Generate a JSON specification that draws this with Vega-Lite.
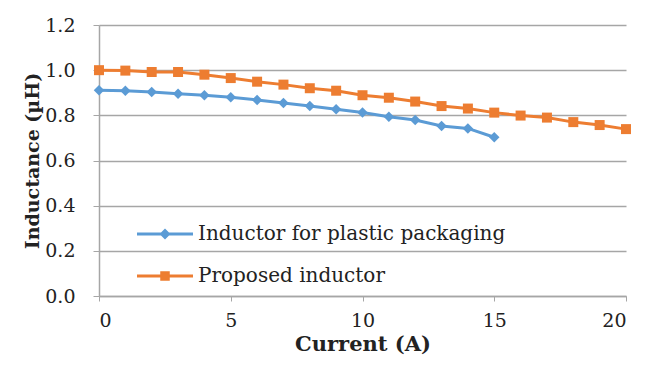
{
  "$schema": "https://vega.github.io/schema/vega-lite/v6.json",
  "width": 527,
  "height": 271,
  "autosize": {"type": "none"},
  "padding": {"left": 99, "top": 25, "right": 31, "bottom": 73},
  "background": "white",
  "config": {
    "view": {"stroke": null},
    "font": "DejaVu Serif"
  },
  "data": {
    "values": [
      {"current": 0, "inductance": 0.911, "series": "Inductor for plastic packaging"},
      {"current": 1, "inductance": 0.909, "series": "Inductor for plastic packaging"},
      {"current": 2, "inductance": 0.903, "series": "Inductor for plastic packaging"},
      {"current": 3, "inductance": 0.896, "series": "Inductor for plastic packaging"},
      {"current": 4, "inductance": 0.889, "series": "Inductor for plastic packaging"},
      {"current": 5, "inductance": 0.880, "series": "Inductor for plastic packaging"},
      {"current": 6, "inductance": 0.868, "series": "Inductor for plastic packaging"},
      {"current": 7, "inductance": 0.855, "series": "Inductor for plastic packaging"},
      {"current": 8, "inductance": 0.841, "series": "Inductor for plastic packaging"},
      {"current": 9, "inductance": 0.827, "series": "Inductor for plastic packaging"},
      {"current": 10, "inductance": 0.813, "series": "Inductor for plastic packaging"},
      {"current": 11, "inductance": 0.794, "series": "Inductor for plastic packaging"},
      {"current": 12, "inductance": 0.779, "series": "Inductor for plastic packaging"},
      {"current": 13, "inductance": 0.753, "series": "Inductor for plastic packaging"},
      {"current": 14, "inductance": 0.742, "series": "Inductor for plastic packaging"},
      {"current": 15, "inductance": 0.703, "series": "Inductor for plastic packaging"},
      {"current": 0, "inductance": 1.000, "series": "Proposed inductor"},
      {"current": 1, "inductance": 0.998, "series": "Proposed inductor"},
      {"current": 2, "inductance": 0.992, "series": "Proposed inductor"},
      {"current": 3, "inductance": 0.992, "series": "Proposed inductor"},
      {"current": 4, "inductance": 0.980, "series": "Proposed inductor"},
      {"current": 5, "inductance": 0.965, "series": "Proposed inductor"},
      {"current": 6, "inductance": 0.949, "series": "Proposed inductor"},
      {"current": 7, "inductance": 0.936, "series": "Proposed inductor"},
      {"current": 8, "inductance": 0.920, "series": "Proposed inductor"},
      {"current": 9, "inductance": 0.909, "series": "Proposed inductor"},
      {"current": 10, "inductance": 0.889, "series": "Proposed inductor"},
      {"current": 11, "inductance": 0.878, "series": "Proposed inductor"},
      {"current": 12, "inductance": 0.861, "series": "Proposed inductor"},
      {"current": 13, "inductance": 0.841, "series": "Proposed inductor"},
      {"current": 14, "inductance": 0.830, "series": "Proposed inductor"},
      {"current": 15, "inductance": 0.812, "series": "Proposed inductor"},
      {"current": 16, "inductance": 0.799, "series": "Proposed inductor"},
      {"current": 17, "inductance": 0.790, "series": "Proposed inductor"},
      {"current": 18, "inductance": 0.770, "series": "Proposed inductor"},
      {"current": 19, "inductance": 0.757, "series": "Proposed inductor"},
      {"current": 20, "inductance": 0.739, "series": "Proposed inductor"}
    ]
  },
  "encoding": {
    "x": {
      "field": "current", "type": "quantitative",
      "scale": {"domain": [0, 20], "nice": false},
      "axis": {
        "title": "Current  (A)",
        "values": [0, 5, 10, 15, 20],
        "grid": false,
        "domainColor": "#a6a6a6", "domainWidth": 1.5,
        "tickColor": "#a6a6a6", "tickSize": 5,
        "labelFont": "DejaVu Serif", "labelFontSize": 19, "labelColor": "#222222",
        "labelPadding": 10,
        "titleFont": "DejaVu Serif", "titleFontSize": 21, "titleFontWeight": "bold", "titleColor": "#222222",
        "titlePadding": 3
      }
    },
    "y": {
      "field": "inductance", "type": "quantitative",
      "scale": {"domain": [0, 1.2], "nice": false, "zero": true},
      "axis": {
        "title": "Inductance (µH)",
        "values": [0, 0.2, 0.4, 0.6, 0.8, 1.0, 1.2],
        "format": ".1f",
        "grid": true, "gridColor": "#a6a6a6", "gridWidth": 1.5,
        "domainColor": "#a6a6a6", "domainWidth": 1.5,
        "tickColor": "#a6a6a6", "tickSize": 6,
        "labelFont": "DejaVu Serif", "labelFontSize": 19, "labelColor": "#222222",
        "labelPadding": 18,
        "titleFont": "DejaVu Serif", "titleFontSize": 19, "titleFontWeight": "bold", "titleColor": "#222222",
        "titlePadding": 2
      }
    },
    "color": {
      "field": "series", "type": "nominal",
      "scale": {"domain": ["Inductor for plastic packaging", "Proposed inductor"], "range": ["#5B9BD5", "#ED7D31"]},
      "legend": {
        "title": null,
        "orient": "none",
        "legendX": 56,
        "legendY": 199,
        "padding": 0,
        "symbolSize": 100,
        "symbolStrokeWidth": 0,
        "labelFont": "DejaVu Serif",
        "labelFontSize": 20,
        "labelColor": "#222222",
        "labelOffset": 23,
        "rowPadding": 22,
        "labelLimit": 0,
        "encode": {
          "symbols": {
            "update": {
              "shape": {"signal": "datum.value === 'Proposed inductor' ? 'M-5.6,-0.3H5.6V0.3H-5.6Z M-0.95,-0.95H0.95V0.95H-0.95Z' : 'M-5.6,-0.3H5.6V0.3H-5.6Z M0,-1.1L1.1,0L0,1.1L-1.1,0Z'"},
              "fill": {"signal": "datum.value === 'Proposed inductor' ? '#ED7D31' : '#5B9BD5'"},
              "opacity": {"value": 1}
            }
          }
        }
      }
    }
  },
  "layer": [
    {
      "mark": {"type": "line", "strokeWidth": 3},
      "encoding": {"detail": {"field": "series"}}
    },
    {
      "transform": [{"filter": "datum.series === 'Inductor for plastic packaging'"}],
      "mark": {"type": "point", "filled": true, "opacity": 1, "shape": "diamond", "size": 110}
    },
    {
      "transform": [{"filter": "datum.series === 'Proposed inductor'"}],
      "mark": {"type": "point", "filled": true, "opacity": 1, "shape": "square", "size": 100}
    }
  ]
}
